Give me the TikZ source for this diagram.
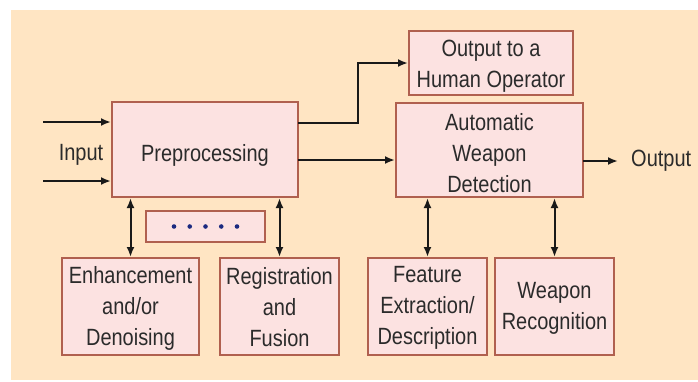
\documentclass[tikz,border=0pt]{standalone}
\usepackage{fontspec}
\usetikzlibrary{arrows.meta}
\newfontfamily\lblfont[FakeStretch=0.85]{Liberation Sans}
\definecolor{bgpeach}{HTML}{FFE5C3}
\definecolor{boxfill}{HTML}{FCE2E1}
\definecolor{boxedge}{HTML}{B0604F}
\definecolor{txtgray}{HTML}{2B2B2B}
\definecolor{dotnavy}{HTML}{1C2A80}
\tikzset{
  x=1pt, y=-1pt,
  lbl/.style={font=\lblfont\fontsize{23.5}{31}\selectfont, text=txtgray},
  blockbox/.style={draw=boxedge, fill=boxfill, line width=2pt,
    inner sep=0pt, anchor=center},
  % block caption placed at the block centre, lowered by #1
  caption/.style 2 args={label={[lbl, align=center, inner sep=0pt, yshift=-#1]center:#2}},
  flow/.style={line width=2pt, draw=black!90, -{Latex[length=10pt,width=8pt]}},
  twoway/.style={line width=2pt, draw=black!90,
    {Latex[length=10pt,width=8pt]}-{Latex[length=10pt,width=8pt]}},
  plain/.style={lbl, inner sep=0pt}
}
\begin{document}
\begin{tikzpicture}
  % canvas
  \useasboundingbox (0,0) rectangle (698,381);
  \fill[white] (0,0) rectangle (698,381);
  \fill[bgpeach] (11,10) rectangle (698,380);

  % blocks
  \node[blockbox, minimum width=186pt, minimum height=95pt,
    caption={6pt}{Preprocessing}] (pre) at (205,149.5) {};
  \node[blockbox, minimum width=164pt, minimum height=64pt,
    caption={3pt}{Output to a\\Human Operator}] (hum) at (491,63) {};
  \node[blockbox, minimum width=187pt, minimum height=94pt,
    caption={3pt}{Automatic\\Weapon\\Detection}] (awd) at (489.5,150) {};
  \node[blockbox, minimum width=119pt, minimum height=31pt] (dots) at (205.5,226.5) {};
  \node[blockbox, minimum width=137pt, minimum height=97pt,
    caption={2pt}{Enhancement\\and/or\\Denoising}] (enh) at (130.5,306.5) {};
  \node[blockbox, minimum width=119pt, minimum height=97pt,
    caption={1pt}{Registration\\and\\Fusion}] (reg) at (279.5,306.5) {};
  \node[blockbox, minimum width=119pt, minimum height=97pt,
    caption={1pt}{Feature\\Extraction/\\Description}] (feat) at (427.5,306.5) {};
  \node[blockbox, minimum width=119pt, minimum height=97pt,
    caption={1.5pt}{Weapon\\Recognition}] (rec) at (554.5,306.5) {};

  % ellipsis dots inside the small block
  \foreach \i in {0,...,4}
    \fill[dotnavy] ([xshift={-31.5pt+15.75pt*\i}]dots.center) circle (2.3pt);

  % labels
  \node[plain] (inlbl) at (81,155) {Input};
  \node[plain, anchor=west] (outlbl) at (631,161) {Output};

  % inputs
  \coordinate (inA) at (43,122);
  \coordinate (inB) at (43,181);
  \draw[flow] (inA) -- (inA -| pre.west);
  \draw[flow] (inB) -- (inB -| pre.west);

  % preprocessing to the operator and to detection
  \coordinate (preA) at (298,123);
  \coordinate (bend) at (358,123);
  \coordinate (preB) at (298,160);
  \draw[flow] (preA) -- (bend) |- (hum.west);
  \draw[flow] (preB) -- (preB -| awd.west);

  % detection output
  \coordinate (awdOut) at (583,161);
  \draw[flow] (awdOut) -- ([xshift=-13pt]outlbl.west);

  % two-way links to the sub-blocks
  \draw[twoway] (enh.north |- pre.south) -- (enh.north);
  \draw[twoway] (reg.north |- pre.south) -- (reg.north);
  \draw[twoway] (feat.north |- awd.south) -- (feat.north);
  \draw[twoway] (rec.north |- awd.south) -- (rec.north);
\end{tikzpicture}
\end{document}
